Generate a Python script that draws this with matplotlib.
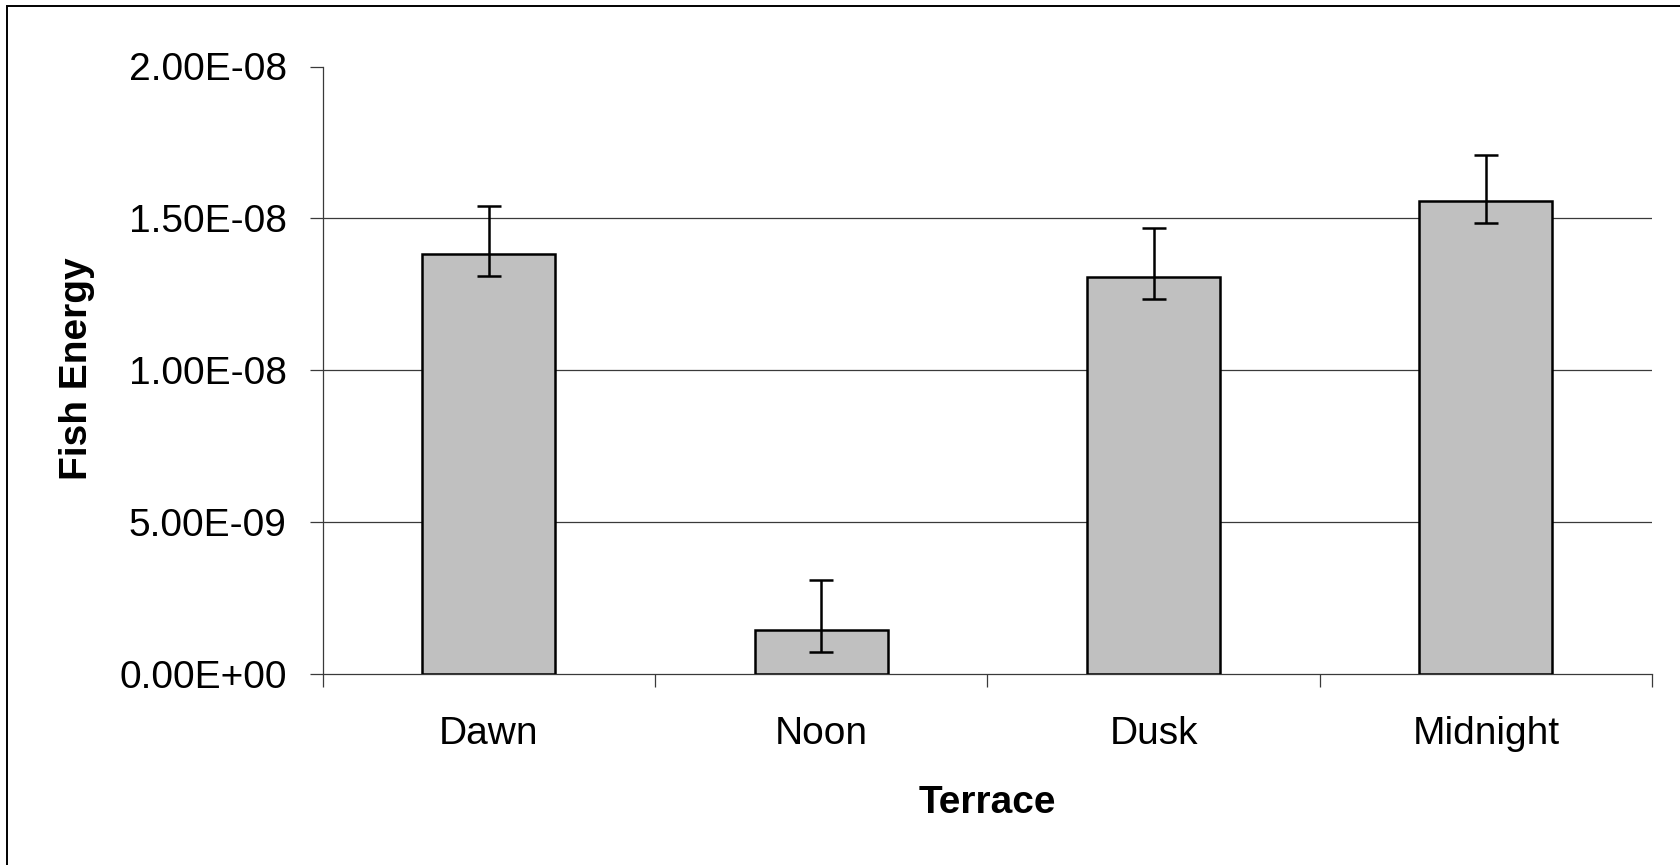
import matplotlib
matplotlib.use("Agg")
import matplotlib.pyplot as plt
from matplotlib.ticker import FuncFormatter
from matplotlib.patches import Rectangle

plt.rcParams['font.family'] = ['Liberation Sans', 'DejaVu Sans']

# data
terrace = ["Dawn", "Noon", "Dusk", "Midnight"]
energy = [1.383e-8, 0.147e-8, 1.307e-8, 1.557e-8]
err_low = [0.072e-8, 0.072e-8, 0.073e-8, 0.073e-8]
err_high = [0.157e-8, 0.162e-8, 0.160e-8, 0.152e-8]
yticks = [0, 0.5e-8, 1.0e-8, 1.5e-8, 2.0e-8]

W, H = 1681, 865
fig = plt.figure(figsize=(W / 100, H / 100), dpi=100)
ax = fig.add_axes([322.7 / W, 1 - 674.3 / H, (1652 - 322.7) / W, (674.3 - 66.5) / H])

x = list(range(len(terrace)))
ax.bar(x, energy, width=0.4, color='#c0c0c0', edgecolor='black', linewidth=1.8, zorder=3)
ax.errorbar(x, energy, yerr=[err_low, err_high], fmt='none', ecolor='black',
            elinewidth=1.8, capsize=8.6, capthick=1.8, zorder=4)

ax.set_xlim(-0.5, len(terrace) - 0.5)
ax.set_ylim(0, 2.0e-8)

# grid lines (none at top)
for v in yticks[1:-1]:
    ax.axhline(v, color='#3a3a3a', lw=0.9, zorder=1)

ax.set_yticks(yticks)
ax.yaxis.set_major_formatter(FuncFormatter(lambda v, p: f"{v:.2E}"))
ax.tick_params(axis='y', length=9.4, width=0.9, pad=16.5, labelsize=28, direction='out', color='#3a3a3a')

# category boundaries as ticks, names in between
ax.set_xticks([i - 0.5 for i in range(len(terrace) + 1)])
ax.set_xticklabels([])
ax.set_xticks(x, minor=True)
ax.set_xticklabels(terrace, minor=True)
ax.tick_params(axis='x', which='major', length=9.4, width=0.9, direction='out', color='#3a3a3a')
ax.tick_params(axis='x', which='minor', length=0, pad=30, labelsize=28)

for s in ['top', 'right']:
    ax.spines[s].set_visible(False)
for s in ['left', 'bottom']:
    ax.spines[s].set_color('#3a3a3a')
    ax.spines[s].set_linewidth(0.9)
    ax.spines[s].set_zorder(2)

fig.text(86.7 / W, 1 - 369 / H, "Fish Energy", rotation=90, rotation_mode='anchor',
         ha='center', va='baseline', fontsize=28, fontweight='bold')
fig.text(987 / W, 1 - 813 / H, "Terrace", ha='center', va='baseline',
         fontsize=28, fontweight='bold')

# chart area frame, right and bottom edges fall outside the picture
fig.add_artist(Rectangle((7.5 / W, -0.5), 2, 1.5 - 5.5 / H, transform=fig.transFigure,
                         fill=False, edgecolor='black', lw=1.4))

fig.savefig("out.png", dpi=100)
